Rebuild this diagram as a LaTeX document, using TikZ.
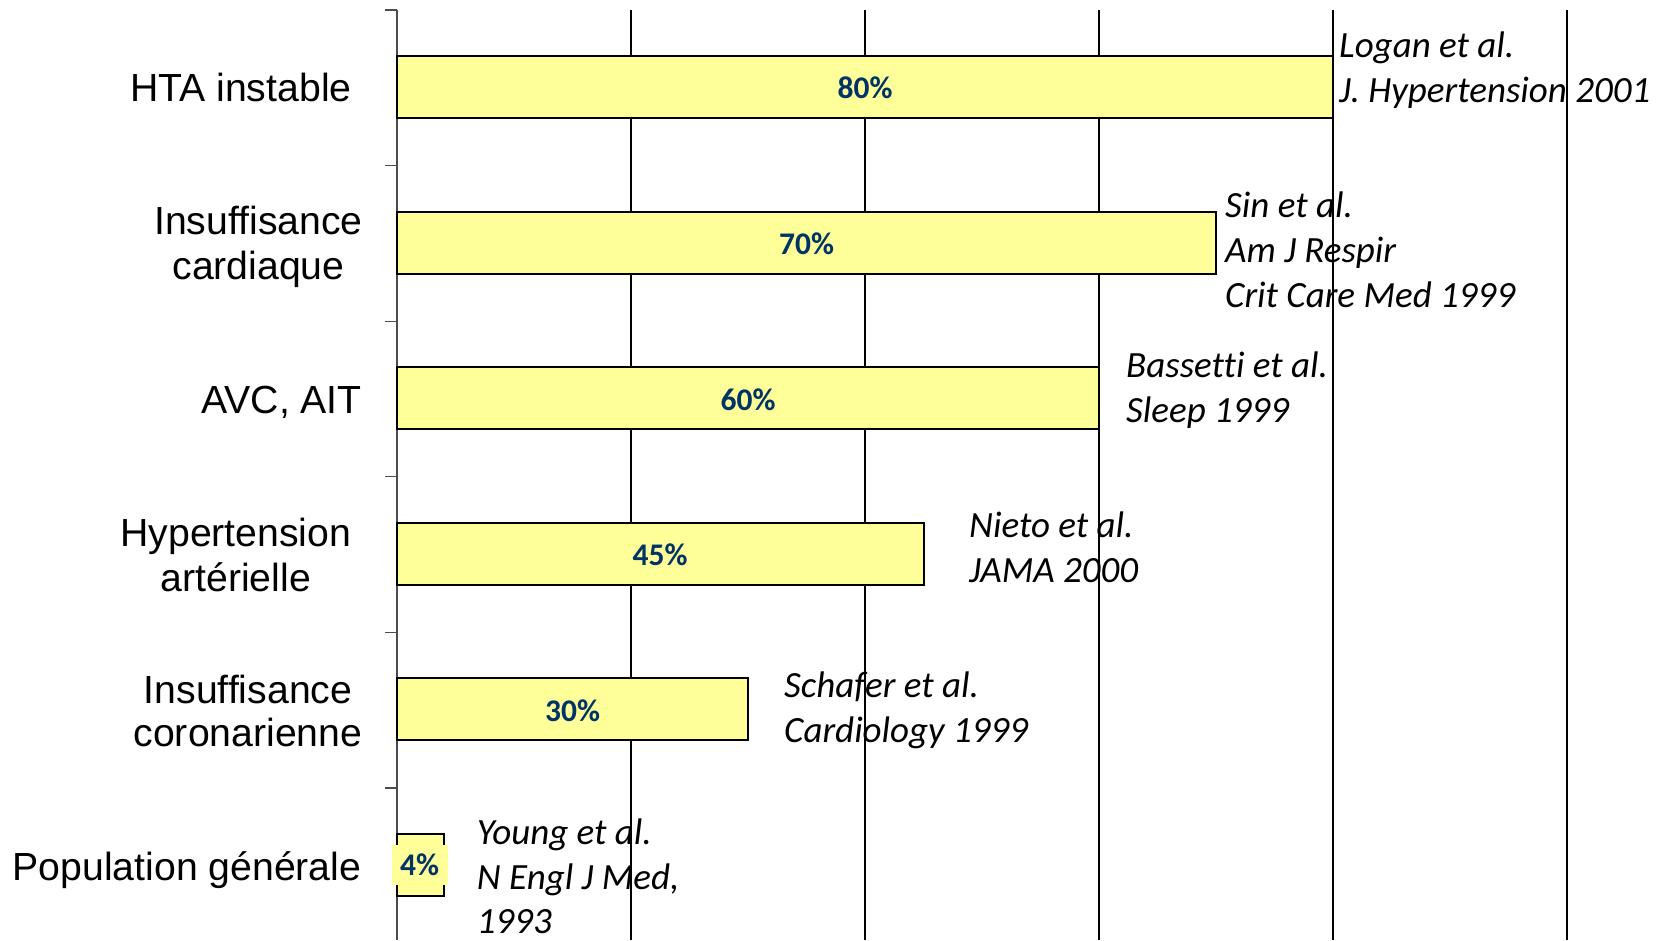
\documentclass[tikz,border=0pt]{standalone}
\usepackage{fontspec}
\setmainfont{Liberation Sans}
\newfontfamily\calfont[Ligatures=NoCommon]{Carlito}
\definecolor{barfill}{HTML}{FFFF99}
\definecolor{pctcol}{HTML}{003366}
\begin{document}
\begin{tikzpicture}[x=1pt,y=-1pt,
  cat/.style={inner sep=0pt,font=\fontsize{39.2}{45}\selectfont,text=black},
  cite/.style={inner sep=0pt,anchor=base west,font=\calfont\itshape\fontsize{37}{42}\selectfont},
  pct/.style={inner sep=0pt,font=\calfont\bfseries\fontsize{31.5}{36}\selectfont,text=pctcol},
  bar/.style={draw=black,line width=2pt,fill=barfill},
  grid/.style={draw=black,line width=2pt},
  axis/.style={draw=black!70,line width=1.3pt}]
\useasboundingbox (0,0) rectangle (1672,940);
% citations
\node[cite] (c1a) at (1339,57.5) {Logan et al.};
\node[cite] (c1b) at (1339,102.5) {J. Hypertension 2001};
\node[cite] (c2a) at (1225,217.5) {Sin et al.};
\node[cite] (c2b) at (1225,262.5) {Am J Respir};
\node[cite] (c2c) at (1225,307.5) {Crit Care Med 1999};
\node[cite] (c3a) at (1126,377.5) {Bassetti et al.};
\node[cite] (c3b) at (1126,422.5) {Sleep 1999};
\node[cite] (c4a) at (969,537.5) {Nieto et al.};
\node[cite] (c4b) at (969,582.5) {JAMA 2000};
\node[cite] (c5a) at (784,697.5) {Schafer et al.};
\node[cite] (c5b) at (784,742.5) {Cardiology 1999};
\node[cite] (c6a) at (476.6,844.5) {Young et al.};
\node[cite] (c6b) at (476.6,889.5) {N Engl J Med,};
\node[cite] (c6c) at (476.6,933.5) {1993};
% grid
\foreach \i/\gx in {1/631,2/865,3/1099,4/1333,5/1567}{
  \coordinate (gt\i) at (\gx,10);
  \coordinate (gb\i) at (\gx,940);
  \draw[grid] (gt\i) -- (gb\i);
}
\coordinate (at) at (397,10);
\coordinate (ab) at (397,940);
\draw[axis] (at) -- (ab);
\foreach \k in {0,...,5}{
  \coordinate (tk\k) at (385,{10+155.6*\k});
  \coordinate (tr\k) at (397,{10+155.6*\k});
  \draw[axis] (tk\k) -- (tr\k);
}
% bars
\foreach \k/\v in {0/80,1/70,2/60,3/45,4/30,5/4}{
  \draw[bar] (397,{56+155.6*\k}) rectangle ({397+11.7*\v},{118+155.6*\k});
}
\node[pct] (p1) at (865,87.5) {80\%};
\node[pct] (p2) at (806.5,243.5) {70\%};
\node[pct] (p3) at (748,399.5) {60\%};
\node[pct] (p4) at (660,555) {45\%};
\node[pct] (p5) at (572.5,710.5) {30\%};
\node[pct,fill=barfill,inner xsep=8.5pt,minimum height=40pt] (p6) at (419.7,865) {4\%};
% categories
\node[cat,anchor=base east] (l1) at (351.8,101.5) {HTA instable};
\node[cat,anchor=base] (l2a) at (258.5,234.7) {Insuffisance};
\node[cat,anchor=base] (l2b) at (258.5,279.5) {cardiaque};
\node[cat,anchor=base east] (l3) at (362,413) {AVC, AIT};
\node[cat,anchor=base] (l4a) at (235.8,546) {Hypertension};
\node[cat,anchor=base] (l4b) at (235.8,591) {artérielle};
\node[cat,anchor=base] (l5a) at (248,703) {Insuffisance};
\node[cat,anchor=base] (l5b) at (248,746.5) {coronarienne};
\node[cat,anchor=base east] (l6) at (361.5,880) {Population générale};
\end{tikzpicture}
\end{document}
